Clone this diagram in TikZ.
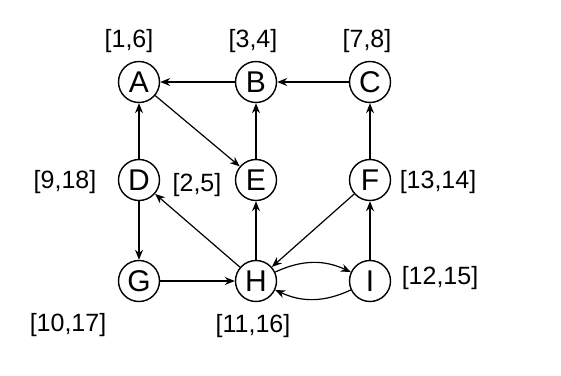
\documentclass[tikz,border=0pt]{standalone}
\usepackage{fontspec}
\setmainfont{Liberation Sans}
\usetikzlibrary{arrows.meta}
\tikzset{
  vtx/.style={circle,draw=black,line width=1.4pt,inner sep=0pt,minimum size=41pt,font=\fontsize{30}{34}\selectfont},
  lbl/.style={font=\fontsize{25}{30}\selectfont,inner sep=0pt},
  arr/.style={-{Stealth[length=10pt,width=8pt]},line width=1.2pt},
}
\begin{document}
\begin{tikzpicture}[x=1pt,y=-1pt]
  \useasboundingbox (0,0) rectangle (561,375);
  \node[vtx] (A) at (139,82) {A};
  \node[vtx] (B) at (256,82) {B};
  \node[vtx] (C) at (370,82) {C};
  \node[vtx] (D) at (139,180) {D};
  \node[vtx] (E) at (256,180) {E};
  \node[vtx] (F) at (370,180) {F};
  \node[vtx] (G) at (139,281) {G};
  \node[vtx] (H) at (256,281) {H};
  \node[vtx] (I) at (370,281) {I};
  % intervals
  \node[lbl] (lA) at (129,41) {[1,6]};
  \node[lbl] (lB) at (253,41) {[3,4]};
  \node[lbl] (lC) at (367,41) {[7,8]};
  \node[lbl] (lD) at (65,182) {[9,18]};
  \node[lbl] (lE) at (197,185) {[2,5]};
  \node[lbl] (lF) at (438,182) {[13,14]};
  \node[lbl] (lG) at (68,325) {[10,17]};
  \node[lbl] (lH) at (253,326) {[11,16]};
  \node[lbl] (lI) at (440,278) {[12,15]};
  \draw[arr] (B) -- (A);
  \draw[arr] (C) -- (B);
  \draw[arr] (A) -- (E);
  \draw[arr] (D) -- (A);
  \draw[arr] (E) -- (B);
  \draw[arr] (F) -- (C);
  \draw[arr] (D) -- (G);
  \draw[arr] (G) -- (H);
  \draw[arr] (H) -- (D);
  \draw[arr] (H) -- (E);
  \draw[arr] (F) -- (H);
  \draw[arr] (I) -- (F);
  \draw[arr] (H) to[bend left=25] (I);
  \draw[arr] (I) to[bend left=25] (H);
\end{tikzpicture}
\end{document}
